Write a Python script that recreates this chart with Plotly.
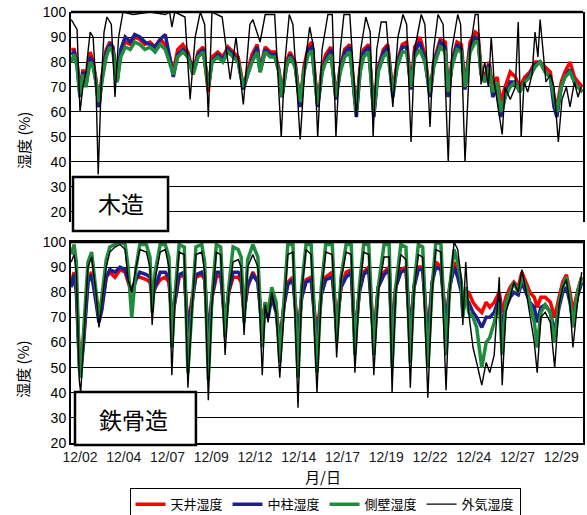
import pandas as pd
import plotly.graph_objects as go

BASE = pd.Timestamp("2012-12-02")

# ---------------- 木造 (top panel) ----------------
# hours since 12/02 00:00
top_out_h = [-12, -8, -4, 0, 4, 8, 14, 18, 22, 25, 29, 33, 37, 43, 48, 53, 59, 73, 96, 117,
             123, 126, 130, 144, 151, 158, 165, 171, 176, 181, 195, 206, 214, 224, 233, 237, 247, 254, 267, 276,
             281, 287, 292, 302, 309, 315, 321, 326, 332, 340, 346, 351, 357, 362, 370, 379, 385, 392, 398, 402,
             407, 413, 420, 429, 436, 443, 448, 454, 459, 468, 473, 480, 485, 491, 498, 505, 510, 518, 522, 528,
             535, 542, 546, 550, 555, 560, 564, 568, 573, 579, 583, 590, 597, 601, 605, 609, 614, 620, 624, 628,
             631, 635, 639, 645, 650, 656, 661, 667, 672, 678, 683, 687]
top_out = [97, 95, 93, 60, 70, 76, 92, 90, 70, 35, 70, 92, 98, 95, 66, 90, 100, 99, 100, 99,
           100, 94, 100, 98, 65, 90, 100, 95, 58, 100, 98, 73, 90, 63, 95, 97, 88, 99, 99, 50,
           80, 99, 95, 49, 80, 94, 85, 50, 85, 99, 99, 50, 85, 99, 99, 58, 85, 98, 92, 50,
           85, 96, 96, 62, 90, 99, 95, 48, 85, 99, 95, 54, 85, 99, 95, 40, 85, 99, 95, 40,
           85, 99, 99, 71, 80, 70, 90, 72, 62, 51, 70, 65, 70, 96, 50, 72, 68, 75, 92, 82,
           97, 85, 72, 75, 70, 48, 65, 70, 62, 72, 66, 70]

top_in_h = [-12, -8, -4, 0, 4, 8, 14, 18, 22, 26, 30, 36, 41, 45, 51, 56, 62, 69, 75, 82,
            89, 96, 103, 110, 117, 123, 128, 134, 141, 148, 155, 162, 169, 176, 181, 189, 196, 203, 210, 217,
            224, 229, 236, 243, 247, 254, 261, 267, 273, 277, 283, 288, 295, 302, 307, 313, 318, 326, 332, 337,
            344, 351, 357, 363, 370, 379, 384, 389, 396, 403, 409, 416, 422, 429, 435, 442, 448, 454, 459, 466,
            473, 480, 485, 494, 501, 505, 510, 517, 523, 528, 535, 542, 546, 550, 555, 561, 566, 572, 577, 583,
            590, 597, 603, 610, 617, 624, 631, 638, 645, 650, 654, 660, 665, 672, 678, 683, 689]
top_ceiling = [85, 85, 80, 68, 77, 72, 84, 80, 73, 62, 74, 85, 88, 86, 73, 84, 88, 87, 90, 89,
               87, 88, 86, 89, 87, 82, 76, 85, 87, 84, 76, 84, 86, 68, 82, 84, 82, 86, 84, 82,
               70, 76, 83, 87, 77, 86, 84, 84, 77, 66, 80, 84, 80, 63, 78, 86, 88, 63, 78, 83,
               86, 66, 78, 85, 87, 60, 78, 85, 87, 60, 78, 85, 87, 68, 80, 87, 88, 70, 86, 90,
               83, 67, 80, 89, 88, 66, 80, 88, 87, 70, 88, 92, 91, 77, 74, 80, 70, 74, 64, 70,
               76, 74, 70, 74, 76, 80, 80, 78, 76, 66, 62, 72, 76, 80, 74, 72, 70]
top_pillar = [83, 84, 79, 66, 76, 70, 82, 79, 72, 62, 73, 84, 87, 86, 72, 85, 90, 88, 91, 90,
              88, 87, 86, 89, 91, 82, 74, 83, 85, 83, 75, 83, 85, 70, 80, 83, 81, 85, 83, 80,
              69, 74, 81, 86, 76, 85, 83, 83, 76, 66, 78, 83, 79, 62, 76, 85, 86, 62, 76, 81,
              85, 65, 77, 84, 86, 58, 76, 84, 86, 58, 77, 84, 86, 66, 79, 86, 86, 69, 84, 88,
              81, 66, 79, 88, 86, 66, 79, 87, 85, 69, 86, 90, 89, 75, 72, 79, 66, 70, 58, 66,
              72, 72, 68, 72, 75, 79, 80, 76, 74, 62, 58, 70, 74, 77, 72, 70, 68]
top_wall = [80, 83, 78, 67, 75, 70, 80, 78, 72, 64, 72, 82, 86, 84, 72, 82, 86, 85, 88, 87,
            85, 86, 84, 87, 85, 80, 75, 82, 84, 82, 75, 82, 84, 70, 80, 82, 80, 84, 82, 80,
            70, 74, 80, 84, 76, 84, 82, 82, 76, 66, 78, 82, 78, 64, 76, 83, 84, 63, 76, 80,
            83, 66, 76, 82, 84, 60, 76, 82, 84, 60, 76, 82, 84, 68, 78, 84, 84, 70, 82, 85,
            80, 68, 78, 86, 84, 68, 78, 85, 84, 70, 84, 88, 88, 76, 72, 78, 68, 72, 60, 66,
            70, 72, 68, 72, 74, 78, 80, 76, 74, 66, 60, 70, 74, 76, 72, 70, 68]

# ---------------- 鉄骨造 (bottom panel) ----------------
bot_h = [-12, -8, -5, -1, 1, 5, 11, 16, 22, 26, 30, 36, 41, 48, 55, 62, 66, 71, 77, 82,
         91, 96, 99, 103, 110, 117, 122, 126, 130, 136, 143, 148, 154, 159, 167, 171, 176, 181, 187, 193,
         199, 204, 210, 217, 221, 225, 230, 237, 244, 250, 254, 258, 263, 269, 274, 280, 285, 292, 299, 304,
         310, 317, 325, 331, 337, 346, 352, 358, 365, 372, 377, 383, 389, 396, 403, 409, 417, 424, 428, 433,
         440, 447, 453, 458, 464, 470, 477, 483, 488, 495, 502, 507, 513, 518, 523, 525, 529, 533, 539, 544,
         551, 557, 562, 568, 575, 579, 584, 590, 595, 601, 606, 612, 617, 623, 627, 632, 638, 645, 651, 657,
         662, 667, 672, 676, 682, 688]
bot_ceiling = [84, 88, 82, 55, 50, 62, 85, 88, 78, 70, 75, 86, 88, 86, 89, 88, 84, 80, 86, 86,
               85, 84, 78, 82, 85, 86, 84, 70, 76, 86, 87, 66, 78, 86, 87, 85, 62, 78, 86, 87,
               68, 80, 86, 86, 84, 72, 82, 88, 84, 66, 76, 72, 80, 74, 60, 76, 84, 86, 64, 78,
               85, 86, 62, 80, 86, 88, 68, 82, 88, 89, 62, 80, 88, 90, 62, 82, 88, 90, 62, 82,
               89, 90, 64, 82, 90, 90, 62, 84, 92, 90, 68, 82, 92, 88, 82, 74, 80, 80, 76, 74,
               72, 76, 74, 76, 80, 72, 78, 82, 84, 82, 88, 84, 80, 78, 74, 78, 78, 76, 70, 78,
               84, 87, 80, 72, 80, 86]
bot_pillar = [82, 87, 80, 52, 48, 60, 84, 87, 76, 68, 73, 86, 89, 88, 90, 89, 85, 80, 85, 88,
              87, 86, 78, 82, 88, 88, 86, 70, 76, 87, 88, 64, 77, 87, 88, 86, 60, 78, 88, 88,
              66, 80, 88, 88, 86, 72, 83, 87, 84, 64, 74, 70, 78, 72, 58, 75, 83, 85, 62, 78,
              84, 85, 60, 79, 85, 86, 66, 82, 86, 88, 60, 80, 87, 89, 60, 82, 87, 89, 60, 82,
              88, 89, 62, 82, 89, 89, 60, 84, 90, 89, 66, 82, 90, 86, 80, 72, 78, 76, 72, 70,
              66, 70, 70, 72, 78, 66, 74, 78, 80, 79, 84, 80, 76, 74, 68, 74, 75, 72, 64, 74,
              80, 82, 76, 68, 78, 84]
bot_wall = [95, 99, 92, 50, 46, 65, 92, 96, 82, 70, 78, 93, 98, 99, 100, 99, 90, 70, 90, 99,
            99, 94, 72, 88, 99, 99, 94, 58, 78, 99, 98, 48, 78, 98, 99, 92, 45, 78, 99, 98,
            62, 82, 98, 97, 94, 68, 93, 99, 94, 58, 76, 72, 82, 76, 52, 78, 99, 99, 46, 82,
            99, 99, 48, 82, 99, 99, 60, 86, 99, 99, 55, 82, 99, 99, 55, 82, 99, 99, 50, 82,
            99, 98, 52, 82, 99, 98, 50, 82, 100, 99, 55, 82, 97, 92, 84, 70, 82, 72, 70, 66,
            50, 60, 62, 68, 76, 55, 76, 80, 84, 80, 86, 82, 75, 68, 58, 72, 75, 72, 60, 76,
            82, 86, 78, 66, 80, 86]
bot_out = [92, 95, 88, 45, 40, 60, 90, 94, 80, 66, 75, 90, 96, 98, 99, 97, 85, 80, 90, 97,
           96, 90, 67, 85, 96, 97, 90, 47, 75, 96, 95, 42, 75, 95, 96, 88, 37, 75, 96, 95,
           55, 80, 92, 93, 90, 63, 90, 95, 90, 47, 75, 68, 80, 72, 46, 75, 95, 96, 34, 80,
           97, 95, 40, 80, 96, 95, 54, 85, 96, 95, 48, 80, 96, 95, 47, 80, 94, 94, 40, 80,
           95, 93, 42, 80, 95, 94, 38, 80, 97, 96, 41, 80, 100, 97, 85, 67, 92, 72, 58, 52,
           43, 52, 48, 55, 86, 43, 72, 78, 84, 80, 89, 80, 70, 60, 48, 70, 72, 68, 50, 75,
           82, 85, 75, 58, 75, 88]

tick_dates = ["2012-12-02 00:00", "2012-12-04 12:00", "2012-12-07 00:00", "2012-12-09 12:00",
              "2012-12-12 00:00", "2012-12-14 12:00", "2012-12-17 00:00", "2012-12-19 12:00",
              "2012-12-22 00:00", "2012-12-24 12:00", "2012-12-27 00:00", "2012-12-29 12:00"]
tick_text = ["12/02", "12/04", "12/07", "12/09", "12/12", "12/14", "12/17", "12/19",
             "12/22", "12/24", "12/27", "12/29"]

names = ["天井湿度", "中柱湿度", "側壁湿度", "外気湿度"]
colors = ["#FF0000", "#1E1E8C", "#1E8C3C", "#000000"]


def to_time(hours):
    return BASE + pd.to_timedelta(pd.Series(hours, dtype=float), unit="h")


fig = go.Figure()
t_top_in = to_time(top_in_h)
for vals, nm, col in zip([top_ceiling, top_pillar, top_wall], names[:3], colors[:3]):
    fig.add_trace(go.Scatter(x=t_top_in, y=vals, mode="lines", name=nm,
                             line=dict(color=col, width=3.5), showlegend=False,
                             xaxis="x", yaxis="y"))
fig.add_trace(go.Scatter(x=to_time(top_out_h), y=top_out, mode="lines", name=names[3],
                         line=dict(color=colors[3], width=1.4), showlegend=False,
                         xaxis="x", yaxis="y"))

t_bot = to_time(bot_h)
for vals, nm, col, w in zip([bot_ceiling, bot_pillar, bot_wall, bot_out], names, colors,
                            [3.5, 3.5, 3.5, 1.4]):
    fig.add_trace(go.Scatter(x=t_bot, y=vals, mode="lines", name=nm,
                             line=dict(color=col, width=w), showlegend=True,
                             xaxis="x2", yaxis="y2"))

xr = [BASE - pd.Timedelta(hours=12.3), BASE + pd.Timedelta(hours=689.8)]
num_font = dict(family="Liberation Sans, Arial, sans-serif", size=14, color="#000000")
jp = "Noto Sans CJK JP"

TOP_D = [0.5128, 1.0]
BOT_D = [0.0, 0.4664]

fig.update_layout(
    width=587, height=515, autosize=False,
    margin=dict(l=71, r=4, t=12, b=72, autoexpand=False),
    paper_bgcolor="white", plot_bgcolor="white",
    font=dict(family=jp, size=14, color="#000000"),
    xaxis=dict(domain=[0, 1], anchor="y", range=xr, showticklabels=False, showgrid=False,
               showline=False, zeroline=False, tickvals=tick_dates),
    yaxis=dict(domain=TOP_D, anchor="x", range=[16, 100], tickvals=[20, 30, 40, 50, 60, 70, 80, 90, 100],
               showgrid=True, gridcolor="#000000", gridwidth=1, showline=True, linecolor="#000000",
               linewidth=2, mirror=True, zeroline=False, tickfont=num_font, ticks=""),
    xaxis2=dict(domain=[0, 1], anchor="y2", range=xr, tickvals=tick_dates, ticktext=tick_text,
                showgrid=False, showline=True, linecolor="#000000", linewidth=1.5, mirror=True,
                zeroline=False, tickfont=dict(family="Liberation Sans, Arial, sans-serif", size=14,
                                              color="#1a1a1a"), ticks=""),
    yaxis2=dict(domain=BOT_D, anchor="x2", range=[20, 100], tickvals=[20, 30, 40, 50, 60, 70, 80, 90, 100],
                showgrid=True, gridcolor="#000000", gridwidth=1, showline=True, linecolor="#000000",
                linewidth=2, mirror=True, zeroline=False, tickfont=num_font, ticks=""),
    legend=dict(orientation="h", xref="container", yref="container", x=0.5537, xanchor="center",
                y=0.052, yanchor="top", bordercolor="#000000", borderwidth=1,
                font=dict(family=jp, size=13), itemwidth=30, tracegroupgap=0,
                bgcolor="white"),
    showlegend=True,
)

# top border lines
fig.add_shape(type="line", xref="paper", yref="paper", x0=0, x1=1, y0=1, y1=1,
              line=dict(color="#000000", width=2.5))
fig.add_shape(type="line", xref="paper", yref="paper", x0=0, x1=1, y0=BOT_D[1], y1=BOT_D[1],
              line=dict(color="#000000", width=2.5))

# label boxes
fig.add_shape(type="rect", xref="paper", yref="paper", x0=0.0039, x1=0.1895, y0=0.4919, y1=0.6172,
              fillcolor="white", line=dict(color="#000000", width=2.5), layer="above")
fig.add_shape(type="rect", xref="paper", yref="paper", x0=0.0078, x1=0.244, y0=-0.0046, y1=0.1183,
              fillcolor="white", line=dict(color="#000000", width=2.5), layer="above")
fig.add_annotation(xref="paper", yref="paper", x=0.0967, y=0.557, text="木造", showarrow=False,
                   xanchor="center", yanchor="middle",
                   font=dict(family=jp, size=23, color="#000000"))
fig.add_annotation(xref="paper", yref="paper", x=0.1230, y=0.056, text="鉄骨造", showarrow=False,
                   xanchor="center", yanchor="middle",
                   font=dict(family=jp, size=23, color="#000000"))

# axis titles
for yy in [0.703, 0.172]:
    fig.add_annotation(xref="paper", yref="paper", x=-0.094, y=yy, text="湿度 (%)", textangle=-90,
                       xanchor="center", yanchor="middle",
                       showarrow=False, font=dict(family=jp, size=15, color="#000000"))
fig.add_annotation(xref="paper", yref="paper", x=0.492, y=-0.0766, text="月/日", showarrow=False,
                   xanchor="center", yanchor="middle",
                   font=dict(family=jp, size=15, color="#000000"))

fig.write_html("out.html", config={"displayModeBar": False},
               post_script="document.body.style.margin='0';document.body.style.overflow='hidden';")
